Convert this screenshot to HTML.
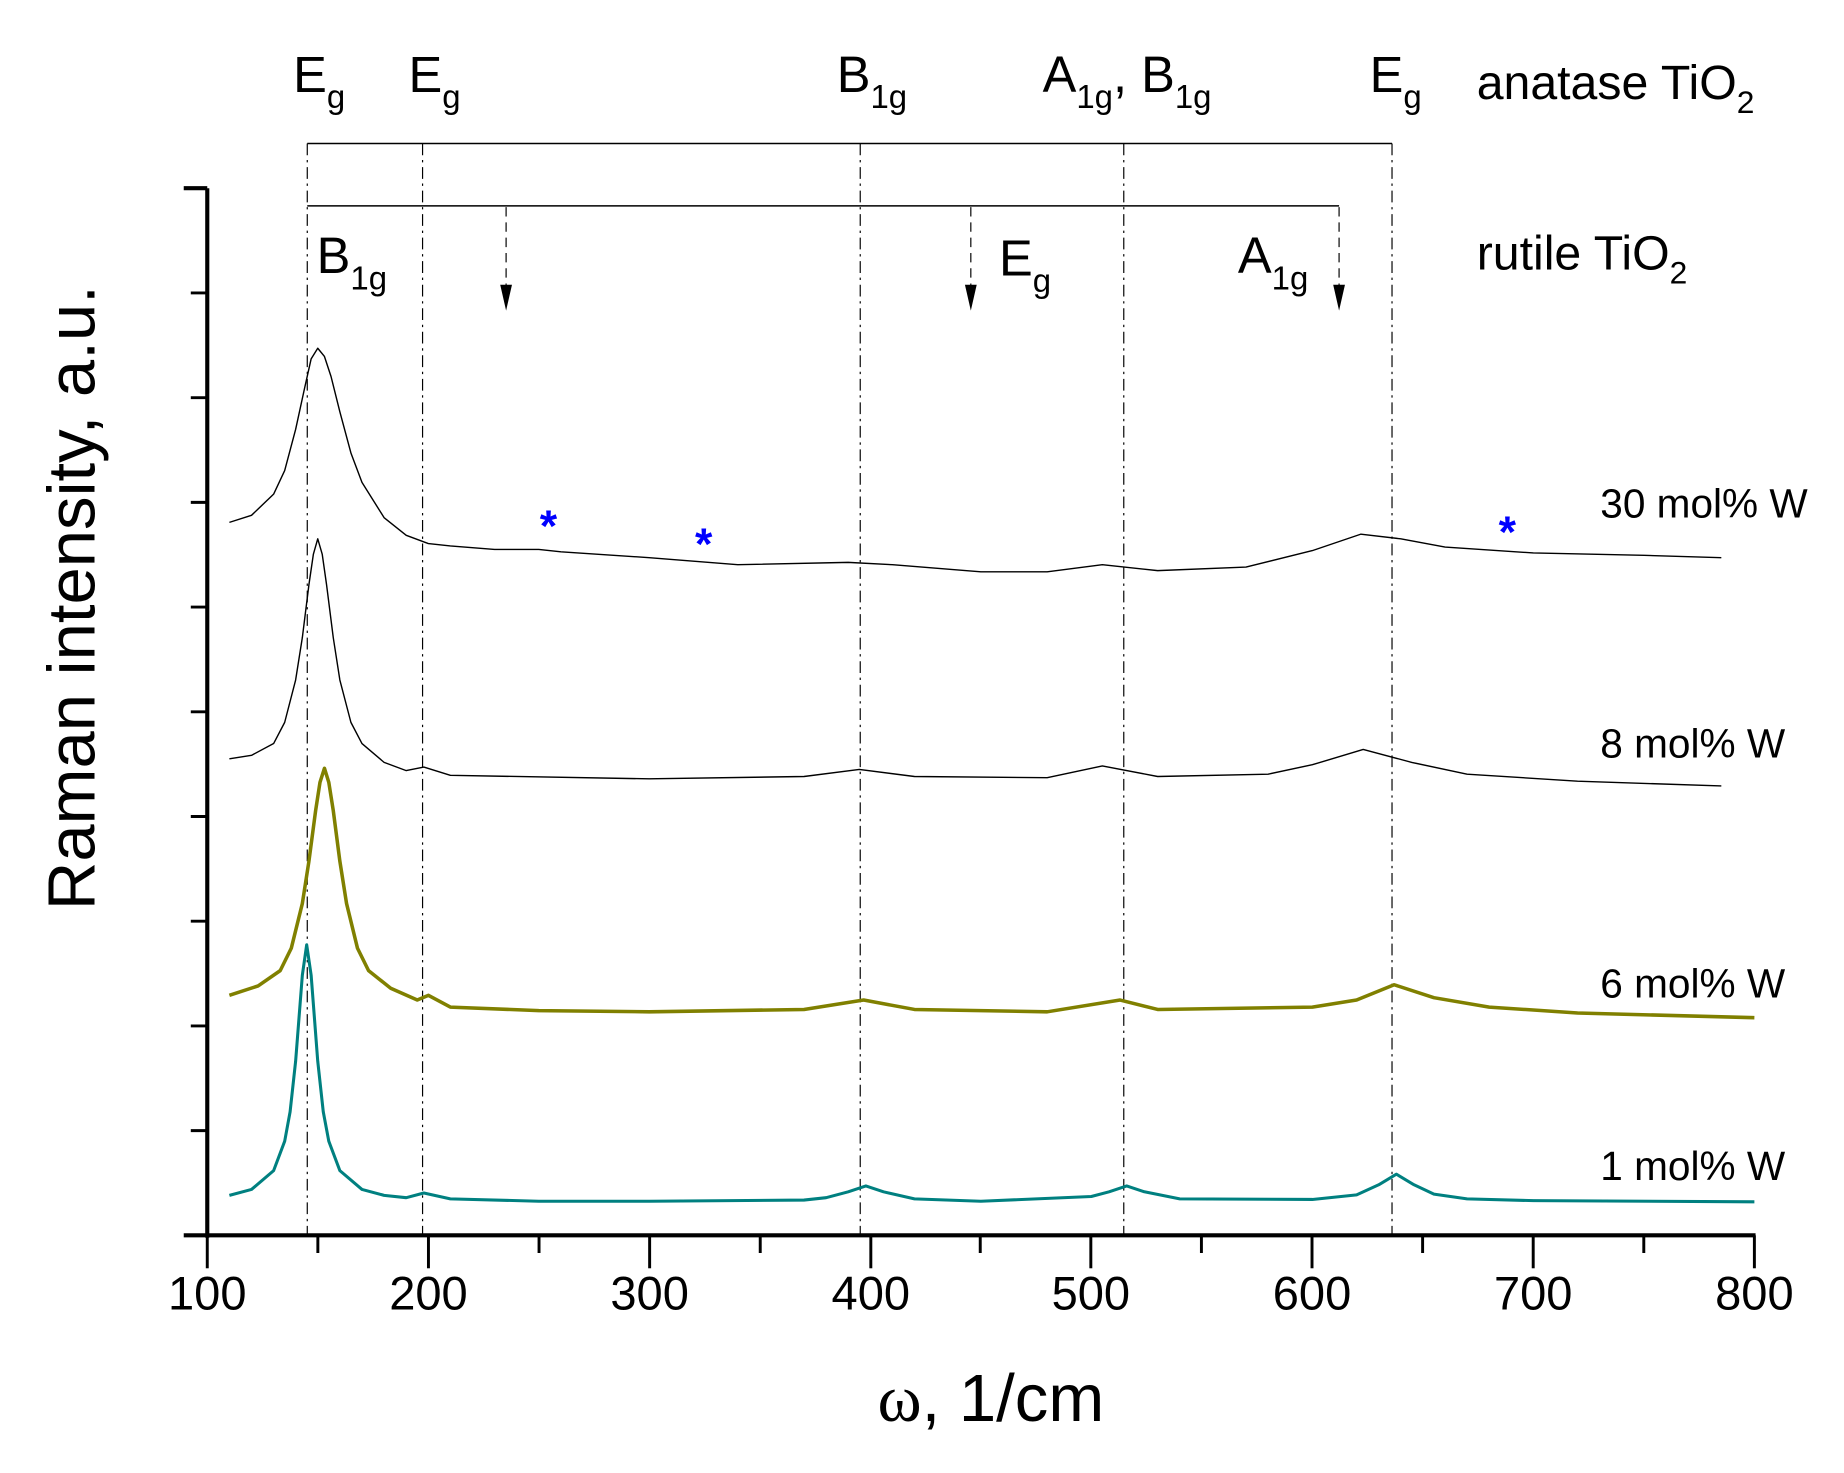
<!DOCTYPE html>
<html><head><meta charset="utf-8"><style>
html,body{margin:0;padding:0;background:#fff;}
svg{display:block;}
text{font-family:"Liberation Sans",Arial,sans-serif;fill:#000;}
</style></head><body>
<svg width="1844" height="1473" viewBox="0 0 1567 1252" xmlns="http://www.w3.org/2000/svg">
<rect width="1567" height="1252" fill="#fff"/>
<g stroke="#000" stroke-width="1" stroke-dasharray="10,4,2,4" fill="none">
<line x1="261" y1="122" x2="261" y2="1050"/>
<line x1="359" y1="122" x2="359" y2="1050"/>
<line x1="731" y1="122" x2="731" y2="1050"/>
<line x1="955" y1="122" x2="955" y2="1050"/>
<line x1="1183" y1="122" x2="1183" y2="1050"/>
</g>
<line x1="261" y1="122" x2="1183" y2="122" stroke="#000" stroke-width="1.3"/>
<line x1="261" y1="175" x2="1138" y2="175" stroke="#000" stroke-width="1.3"/>
<g stroke="#000" stroke-width="1" stroke-dasharray="8,5">
<line x1="430" y1="176" x2="430" y2="245"/>
<line x1="825" y1="176" x2="825" y2="245"/>
<line x1="1138" y1="176" x2="1138" y2="245"/>
</g>
<g fill="#000">
<polygon points="425,242 435,242 430,264"/>
<polygon points="820,242 830,242 825,264"/>
<polygon points="1133,242 1143,242 1138,264"/>
</g>
<g fill="none" stroke-linejoin="round">
<path stroke="#008080" stroke-width="2.6" d="M194.8,1016 L213.6,1011 L232.4,995 L241.8,970 L246.4,945 L251.1,902 L256.8,829 L260.5,803 L264.3,829 L269.9,902 L274.6,945 L279.3,970 L288.7,995 L307.5,1011 L326.3,1016 L345.1,1018 L360.1,1014 L382.6,1019 L457.8,1021 L551.7,1021 L683.2,1020 L702.0,1018 L720.8,1013 L735.8,1008 L750.8,1013 L777.1,1019 L833.5,1021 L927.4,1017 L942.5,1013 L957.5,1008 L972.5,1013 L1002.6,1019 L1115.3,1019.5 L1152.9,1015.6 L1171.7,1007 L1186.7,998 L1201.7,1007 L1218.6,1015 L1246.8,1019 L1303.1,1020.5 L1491,1021.5"/>
<path stroke="#808000" stroke-width="3" d="M194.8,846 L219.2,838 L238.0,825 L247.4,806 L256.8,768 L262.4,732 L268.1,689 L271.8,665 L275.6,653 L279.3,665 L283.1,689 L288.7,732 L294.4,768 L303.7,806 L313.1,825 L331.9,840 L354.5,850 L363.9,846 L382.6,856 L457.8,859 L551.7,860 L683.2,858 L733.9,850 L777.1,858 L889.9,860 L951.9,850 L983.8,858 L1115.3,856 L1152.9,850 L1184.8,837 L1218.6,848 L1265.6,856 L1340.7,861 L1491,865"/>
<path stroke="#000" stroke-width="1.2" d="M194.8,645 L213.6,642 L232.4,632 L241.8,614 L251.1,578 L256.8,542 L262.4,497 L266.2,471 L269.9,458 L273.7,471 L277.4,497 L283.1,542 L288.7,578 L298.1,614 L307.5,632 L326.3,648 L345.1,655 L360.1,652 L382.6,659 L551.7,662 L683.2,660 L730.2,654 L777.1,660 L889.9,661 L936.8,651 L983.8,660 L1077.7,658 L1115.3,650 L1158.5,637 L1199.8,648 L1246.8,658 L1340.7,664 L1462.9,668"/>
<path stroke="#000" stroke-width="1.2" d="M194.8,444 L213.6,438 L232.4,420 L241.8,400 L251.1,365 L258.7,330 L264.3,305 L269.9,296 L275.6,303 L281.2,320 L288.7,350 L298.1,385 L307.5,410 L326.3,440 L345.1,455 L363.9,462 L382.6,464 L420.2,467 L457.8,467 L476.6,469 L551.7,474 L626.9,480 L720.8,478 L758.4,480 L833.5,486 L889.9,486 L936.8,480 L983.8,485 L1058.9,482 L1115.3,468 L1156.6,454 L1190.4,458 L1228.1,465 L1303.1,470 L1397.1,472 L1462.9,474"/>
</g>
<g stroke="#000" stroke-width="3.5" fill="none">
<line x1="176" y1="160" x2="176" y2="1052"/>
<line x1="156" y1="1050" x2="1492" y2="1050"/>
<line x1="156" y1="160" x2="176" y2="160"/>
</g>
<g stroke="#000" stroke-width="2.5">
<line x1="162" y1="249" x2="176" y2="249"/><line x1="162" y1="338" x2="176" y2="338"/>
<line x1="162" y1="427" x2="176" y2="427"/><line x1="162" y1="516" x2="176" y2="516"/>
<line x1="162" y1="605" x2="176" y2="605"/><line x1="162" y1="694" x2="176" y2="694"/>
<line x1="162" y1="783" x2="176" y2="783"/><line x1="162" y1="872" x2="176" y2="872"/>
<line x1="162" y1="961" x2="176" y2="961"/>
<line x1="176" y1="1050" x2="176" y2="1078"/><line x1="270" y1="1050" x2="270" y2="1065"/>
<line x1="364" y1="1050" x2="364" y2="1078"/><line x1="458" y1="1050" x2="458" y2="1065"/>
<line x1="552" y1="1050" x2="552" y2="1078"/><line x1="646" y1="1050" x2="646" y2="1065"/>
<line x1="740" y1="1050" x2="740" y2="1078"/><line x1="833" y1="1050" x2="833" y2="1065"/>
<line x1="927" y1="1050" x2="927" y2="1078"/><line x1="1021" y1="1050" x2="1021" y2="1065"/>
<line x1="1115" y1="1050" x2="1115" y2="1078"/><line x1="1209" y1="1050" x2="1209" y2="1065"/>
<line x1="1303" y1="1050" x2="1303" y2="1078"/><line x1="1397" y1="1050" x2="1397" y2="1065"/>
<line x1="1491" y1="1050" x2="1491" y2="1078"/>
</g>
<g font-size="40" text-anchor="middle">
<text x="176" y="1113">100</text><text x="364" y="1113">200</text><text x="552" y="1113">300</text>
<text x="740" y="1113">400</text><text x="927" y="1113">500</text><text x="1115" y="1113">600</text>
<text x="1303" y="1113">700</text><text x="1491" y="1113">800</text>
</g>
<text x="842" y="1208" font-size="57" text-anchor="middle"><tspan font-family="Liberation Serif,serif">ω</tspan>, 1/cm</text>
<text transform="translate(80,508) rotate(-90)" font-size="57" text-anchor="middle">Raman intensity, a.u.</text>
<g font-size="43">
<text x="249" y="78">E<tspan font-size="28" dy="14">g</tspan></text>
<text x="347" y="78">E<tspan font-size="28" dy="14">g</tspan></text>
<text x="711" y="78">B<tspan font-size="28" dy="14">1g</tspan></text>
<text x="886" y="78">A<tspan font-size="28" dy="14">1g</tspan><tspan dy="-14">, B</tspan><tspan font-size="28" dy="14">1g</tspan></text>
<text x="1164" y="78">E<tspan font-size="28" dy="14">g</tspan></text>
<text x="269" y="232">B<tspan font-size="28" dy="14">1g</tspan></text>
<text x="849" y="234">E<tspan font-size="28" dy="14">g</tspan></text>
<text x="1052" y="232">A<tspan font-size="28" dy="14">1g</tspan></text>
</g>
<g font-size="41">
<text x="1255" y="84">anatase TiO<tspan font-size="27" dy="12">2</tspan></text>
<text x="1255" y="229">rutile TiO<tspan font-size="27" dy="12">2</tspan></text>
</g>
<g font-size="34.5">
<text x="1360" y="440">30 mol% W</text>
<text x="1360" y="644">8 mol% W</text>
<text x="1360" y="848">6 mol% W</text>
<text x="1360" y="1003">1 mol% W</text>
</g>
<g font-size="38" text-anchor="middle" font-weight="bold">
<text x="466" y="460" style="fill:#00f">*</text>
<text x="598" y="475" style="fill:#00f">*</text>
<text x="1281" y="465" style="fill:#00f">*</text>
</g>
</svg>
</body></html>
